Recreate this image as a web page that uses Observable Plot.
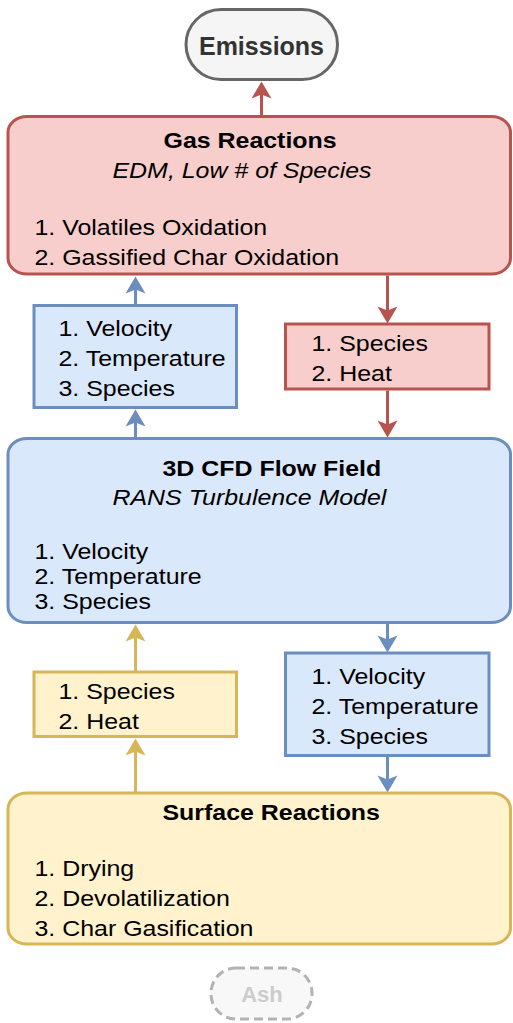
<!DOCTYPE html>
<html>
<head>
<meta charset="utf-8">
<script src="https://cdn.jsdelivr.net/npm/d3@7"></script>
<script src="https://cdn.jsdelivr.net/npm/@observablehq/plot@0.6"></script>
<style>
  html, body { margin: 0; padding: 0; background: #ffffff; }
  #chart { width: 513px; height: 1023px; }
</style>
</head>
<body>
<div id="chart"></div>
<script>
// ---------- DATA (texts) ----------
const emissionsLabel = "Emissions";
const ashLabel = "Ash";
const gasTitle = "Gas Reactions";
const gasSubtitle = "EDM, Low # of Species";
const gasItems = ["Volatiles Oxidation", "Gassified Char Oxidation"];
const cfdTitle = "3D CFD Flow Field";
const cfdSubtitle = "RANS Turbulence Model";
const cfdItems = ["Velocity", "Temperature", "Species"];
const surfaceTitle = "Surface Reactions";
const surfaceItems = ["Drying", "Devolatilization", "Char Gasification"];
const cfdToGasItems = ["Velocity", "Temperature", "Species"];
const gasToCfdItems = ["Species", "Heat"];
const surfaceToCfdItems = ["Species", "Heat"];
const cfdToSurfaceItems = ["Velocity", "Temperature", "Species"];

// ---------- LAYOUT (positions, sizes, styles) ----------
const W = 513, H = 1023;
const RED = {fill: "#f8cecc", stroke: "#b85450"};
const BLUE = {fill: "#dae8fc", stroke: "#6c8ebf"};
const YELLOW = {fill: "#fff2cc", stroke: "#d6b656"};

const bigBoxes = [
  {x1: 8, x2: 510.5, y1: 116.5, y2: 274, ...RED},
  {x1: 8, x2: 510.5, y1: 438.5, y2: 622.5, ...BLUE},
  {x1: 8, x2: 510.5, y1: 793, y2: 944, ...YELLOW}
];
const smallBoxes = [
  {x1: 34, x2: 236.5, y1: 305.5, y2: 407.5, ...BLUE},
  {x1: 285.5, x2: 489, y1: 324, y2: 389, ...RED},
  {x1: 34, x2: 236.5, y1: 672, y2: 736.5, ...YELLOW},
  {x1: 285.5, x2: 489, y1: 653, y2: 755.5, ...BLUE}
];
const emissionsPill = [{x1: 186, x2: 337.5, y1: 9.5, y2: 79.5, x: 261, y: 54}];
const ashPill = [{x1: 211, x2: 312, y1: 968, y2: 1019, x: 261.5, y: 1001}];

// arrows: x, source edge, tip
const arrows = [
  {x: 261, from: 116, tip: 81, color: RED.stroke},
  {x: 135, from: 438, tip: 409, color: BLUE.stroke},
  {x: 135, from: 305, tip: 276, color: BLUE.stroke},
  {x: 387, from: 275, tip: 323, color: RED.stroke},
  {x: 387, from: 390, tip: 437, color: RED.stroke},
  {x: 387, from: 623, tip: 652, color: BLUE.stroke},
  {x: 387, from: 756, tip: 792, color: BLUE.stroke},
  {x: 135, from: 793, tip: 738, color: YELLOW.stroke},
  {x: 135, from: 672, tip: 624, color: YELLOW.stroke}
];

// text placement (left x, baseline y)
const titles = [
  {text: gasTitle, x: 163, y: 147},
  {text: cfdTitle, x: 162, y: 475},
  {text: surfaceTitle, x: 162, y: 819}
];
const subtitles = [
  {text: gasSubtitle, x: 112, y: 177},
  {text: cfdSubtitle, x: 112, y: 504}
];
const itemGroups = [
  {items: gasItems, x: 34, y0: 234, dy: 30},
  {items: cfdItems, x: 34, y0: 558, dy: 25},
  {items: surfaceItems, x: 34, y0: 875, dy: 30},
  {items: cfdToGasItems, x: 58, y0: 335, dy: 30},
  {items: gasToCfdItems, x: 311, y0: 350, dy: 30.5},
  {items: surfaceToCfdItems, x: 58, y0: 698, dy: 30},
  {items: cfdToSurfaceItems, x: 311, y0: 683, dy: 30}
];
const itemRows = itemGroups.flatMap(g =>
  g.items.map((t, i) => ({text: `${i + 1}. ${t}`, x: g.x, y: g.y0 + i * g.dy})));

const STRETCH = 1.16;
const FS = 21.5;
const FONT = "'Liberation Sans', Arial, Helvetica, sans-serif";

const arrowHead = {
  draw(ctx) {
    ctx.moveTo(0, 0);
    ctx.lineTo(10, 17);
    ctx.lineTo(0, 13);
    ctx.lineTo(-10, 17);
    ctx.closePath();
  }
};

const svg = Plot.plot({
  width: W,
  height: H,
  margin: 0,
  x: {domain: [0, W], range: [0, W], axis: null},
  y: {domain: [0, H], range: [0, H], axis: null},
  color: {type: "identity"},
  style: {background: "#ffffff", fontFamily: FONT},
  marks: [
    // arrow shafts
    Plot.link(arrows, {
      x1: "x", x2: "x", y1: "from",
      y2: d => d.tip + (d.tip < d.from ? 12 : -12),
      stroke: "color", strokeWidth: 3
    }),
    // arrow heads
    Plot.dot(arrows, {
      x: "x", y: "tip", symbol: arrowHead,
      fill: "color", stroke: null,
      rotate: d => (d.tip > d.from ? 180 : 0)
    }),
    // boxes
    Plot.rect(bigBoxes, {x1: "x1", x2: "x2", y1: "y1", y2: "y2", fill: "fill", stroke: "stroke", strokeWidth: 3, rx: 19, ry: 16}),
    Plot.rect(smallBoxes, {x1: "x1", x2: "x2", y1: "y1", y2: "y2", fill: "fill", stroke: "stroke", strokeWidth: 3}),
    Plot.rect(emissionsPill, {x1: "x1", x2: "x2", y1: "y1", y2: "y2", fill: "#f5f5f5", stroke: "#666666", strokeWidth: 3, rx: 35, ry: 35}),
    Plot.rect(ashPill, {x1: "x1", x2: "x2", y1: "y1", y2: "y2", fill: "#f8f8f8", stroke: "#b3b3b3", strokeWidth: 3, strokeDasharray: "9,5", rx: 25, ry: 25}),
    // pill labels
    Plot.text(emissionsPill, {x: "x", y: "y", text: () => emissionsLabel, textAnchor: "middle", lineAnchor: "bottom", fontSize: 25, fontWeight: "bold", fill: "#333333"}),
    Plot.text(ashPill, {x: "x", y: "y", text: () => ashLabel, textAnchor: "middle", lineAnchor: "bottom", fontSize: 22, fontWeight: "bold", fill: "#cccccc"}),
    // box texts
    Plot.text(titles, {x: "x", y: "y", text: "text", textAnchor: "start", lineAnchor: "bottom", fontSize: FS, fontWeight: "bold", fill: "#000000"}),
    Plot.text(subtitles, {x: "x", y: "y", text: "text", textAnchor: "start", lineAnchor: "bottom", fontSize: FS, fontStyle: "italic", fill: "#000000"}),
    Plot.text(itemRows, {x: "x", y: "y", text: "text", textAnchor: "start", lineAnchor: "bottom", fontSize: FS, fill: "#000000"})
  ]
});

// horizontal stretch of the box texts (reference text is drawn wide)
svg.querySelectorAll("text").forEach(t => {
  const s = t.textContent;
  if (s === emissionsLabel || s === ashLabel) return;
  const x = +(t.getAttribute("x") || 0), y = +(t.getAttribute("y") || 0);
  const tr = t.getAttribute("transform") || "";
  t.setAttribute("transform", `${tr} translate(${x},${y}) scale(${STRETCH},1) translate(${-x},${-y})`);
});

document.getElementById("chart").appendChild(svg);
</script>
</body>
</html>
